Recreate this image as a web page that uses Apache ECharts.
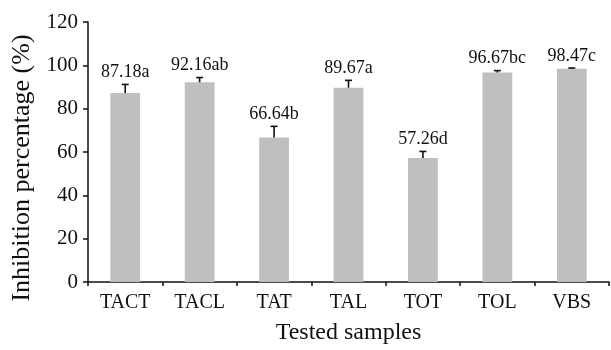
<!DOCTYPE html>
<html>
<head>
<meta charset="utf-8">
<script src="https://cdn.jsdelivr.net/npm/echarts@6/dist/echarts.min.js"></script>
<style>
html,body{margin:0;padding:0;background:#fff;}
#chart{width:611px;height:350px;}
</style>
</head>
<body>
<div id="chart"></div>
<script>
var categories = ['TACT', 'TACL', 'TAT', 'TAL', 'TOT', 'TOL', 'VBS'];
var values = [87.18, 92.16, 66.64, 89.67, 57.26, 96.67, 98.47];
var errors = [4.0, 2.2, 5.2, 3.4, 3.0, 0.9, 0.3];
var letters = ['a', 'ab', 'b', 'a', 'd', 'bc', 'c'];
var yTicks = [0, 20, 40, 60, 80, 100, 120];
var yTitle = 'Inhibition percentage (%)';
var xTitle = 'Tested samples';

var FONT = "'Liberation Serif', 'Times New Roman', serif";
var chart = echarts.init(document.getElementById('chart'), null, {renderer: 'canvas'});

var errData = values.map(function (v, i) { return [i, v, errors[i]]; });

chart.setOption({
  animation: false,
  backgroundColor: '#ffffff',
  grid: {left: 88, right: 2, top: 22, bottom: 58, containLabel: false},
  graphic: [
    {
      type: 'text',
      x: 22,
      y: 168,
      rotation: Math.PI / 2,
      style: {text: yTitle, fontFamily: FONT, fontSize: 26, fill: '#111', textAlign: 'center', textVerticalAlign: 'middle'}
    }
  ],
  xAxis: {
    type: 'category',
    data: categories,
    boundaryGap: true,
    name: xTitle,
    nameLocation: 'middle',
    nameGap: 39,
    nameTextStyle: {fontFamily: FONT, fontSize: 24, color: '#111'},
    axisLine: {lineStyle: {color: '#111', width: 1.5}},
    axisTick: {show: true, inside: false, length: 4, alignWithLabel: false, lineStyle: {color: '#111', width: 1.5}},
    axisLabel: {fontFamily: FONT, fontSize: 20, color: '#111', margin: 11, interval: 0},
    splitLine: {show: false}
  },
  yAxis: {
    type: 'value',
    min: yTicks[0],
    max: yTicks[yTicks.length - 1],
    interval: 20,
    axisLine: {show: true, lineStyle: {color: '#111', width: 1.5}},
    axisTick: {show: true, inside: false, length: 5, lineStyle: {color: '#111', width: 1.5}},
    axisLabel: {fontFamily: FONT, fontSize: 21, color: '#111', margin: 10},
    splitLine: {show: false}
  },
  series: [
    {
      type: 'bar',
      data: values,
      barWidth: '40%',
      itemStyle: {color: '#bfbfbf'},
      silent: true
    },
    {
      type: 'custom',
      data: errData,
      silent: true,
      z: 10,
      renderItem: function (params, api) {
        var i = api.value(0);
        var v = api.value(1);
        var e = api.value(2);
        var base = api.coord([i, v]);
        var top = api.coord([i, v + e]);
        var hw = 3.5;
        var label = values[i].toFixed(2) + letters[i];
        return {
          type: 'group',
          children: [
            {type: 'line', shape: {x1: base[0], y1: base[1], x2: top[0], y2: top[1]}, style: {stroke: '#111', lineWidth: 1.6}},
            {type: 'line', shape: {x1: top[0] - hw, y1: top[1], x2: top[0] + hw, y2: top[1]}, style: {stroke: '#111', lineWidth: 1.6}},
            {type: 'text', x: top[0], y: top[1] - 3, style: {text: label, fontFamily: FONT, fontSize: 18, fill: '#111', textAlign: 'center', textVerticalAlign: 'bottom'}}
          ]
        };
      }
    }
  ]
});
</script>
</body>
</html>
